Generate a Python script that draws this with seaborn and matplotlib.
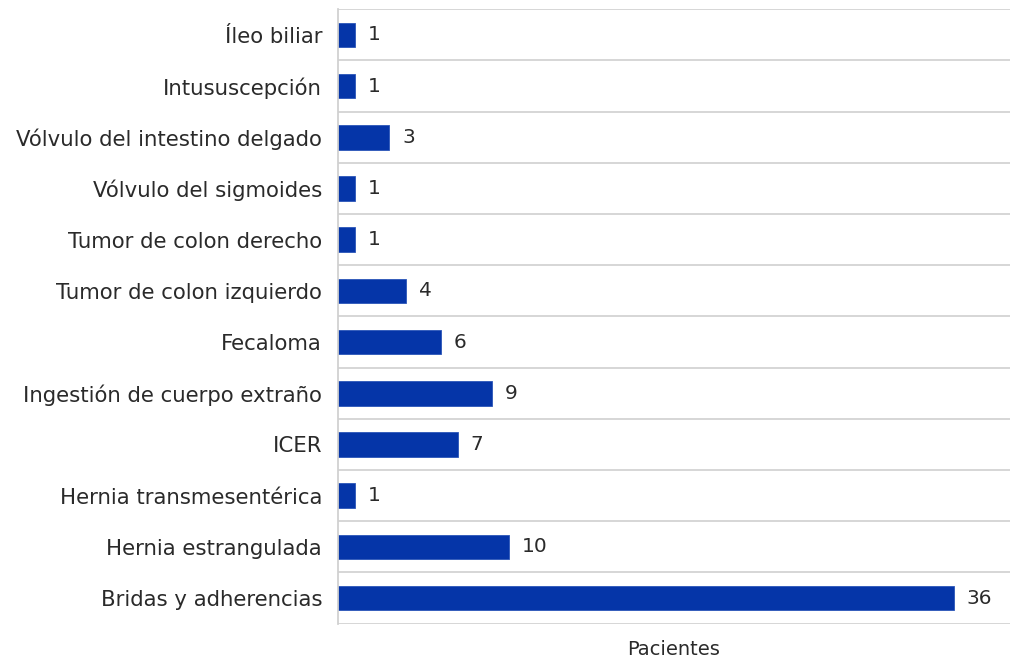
import seaborn as sns
import matplotlib.pyplot as plt
import pandas as pd

BAR = '#0535a8'
TEXT = '#2a2a2a'
GRID = '#cfcfcf'

causas = ['Íleo biliar', 'Intususcepción', 'Vólvulo del intestino delgado',
          'Vólvulo del sigmoides', 'Tumor de colon derecho', 'Tumor de colon izquierdo',
          'Fecaloma', 'Ingestión de cuerpo extraño', 'ICER',
          'Hernia transmesentérica', 'Hernia estrangulada', 'Bridas y adherencias']
pacientes = [1, 1, 3, 1, 1, 4, 6, 9, 7, 1, 10, 36]

df = pd.DataFrame({'Causa': causas, 'Pacientes': pacientes})

sns.set_theme(style='white')
plt.rcParams['font.family'] = ['DejaVu Sans']

fig = plt.figure(figsize=(10.12, 6.6), dpi=100, facecolor='white')
ax = fig.add_axes([0.334, 0.055, 0.664, 0.931])

sns.barplot(data=df, y='Causa', x='Pacientes', orient='h', color=BAR,
            width=0.48, saturation=1, edgecolor='#2a55b8', linewidth=0.6, ax=ax)

for i, v in enumerate(pacientes):
    ax.text(v + 0.75, i, str(v), va='center', ha='left', fontsize=14.5, color=TEXT)

ax.set_xlim(0, 39.3)
ax.set_ylim(len(causas) - 0.5, -0.5)
for k in range(len(causas) + 1):
    ax.axhline(k - 0.5, color=GRID, linewidth=1.2, zorder=0)

ax.set_xticks([])
ax.tick_params(axis='y', length=0, pad=11.5, labelsize=15.3, labelcolor=TEXT)
ax.set_ylabel('')
ax.set_xlabel('Pacientes', fontsize=14, color=TEXT, labelpad=12)
for s in ['top', 'right', 'bottom']:
    ax.spines[s].set_visible(False)
ax.spines['left'].set_color(GRID)

fig.savefig('out.png', dpi=100, facecolor='white')
